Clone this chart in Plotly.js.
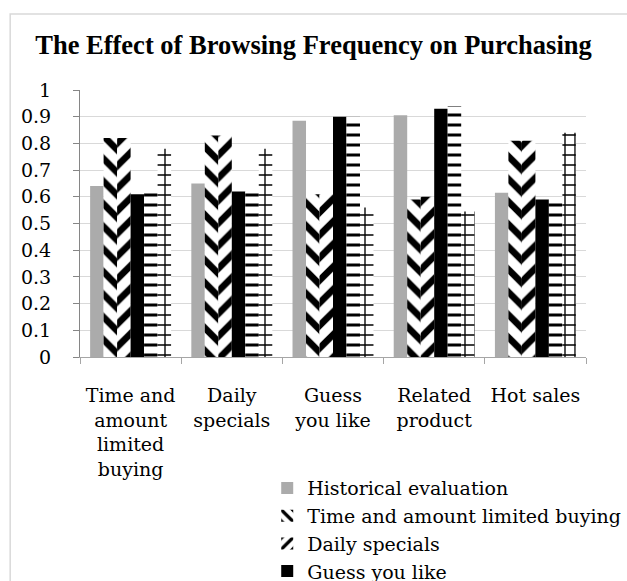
<!DOCTYPE html>
<html>
<head>
<meta charset="utf-8">
<script src="https://cdn.plot.ly/plotly-3.0.1.min.js"></script>
<style>html,body{margin:0;padding:0;background:#fff;}#chart{width:627px;height:581px;}</style>
</head>
<body>
<div id="chart"></div>
<script>
// Categories (x-axis tick labels)
var categories = ['Time and<br>amount<br>limited<br>buying', 'Daily<br>specials', 'Guess<br>you like', 'Related<br>product', 'Hot sales'];

// Series names
var seriesNames = ['Historical evaluation', 'Time and amount limited buying', 'Daily specials', 'Guess you like', 'Related product', 'Hot sales'];

// Series values
var historicalEvaluation = [0.64, 0.65, 0.885, 0.905, 0.615];
var timeAndAmountLimited = [0.82, 0.83, 0.61, 0.59, 0.81];
var dailySpecials       = [0.82, 0.83, 0.61, 0.60, 0.81];
var guessYouLike        = [0.61, 0.62, 0.90, 0.93, 0.59];
var relatedProduct      = [0.615, 0.62, 0.90, 0.94, 0.59];
var hotSales            = [0.78, 0.78, 0.56, 0.545, 0.84];

var yTickVals = [0, 0.1, 0.2, 0.3, 0.4, 0.5, 0.6, 0.7, 0.8, 0.9, 1];
var yTickText = ['0', '0.1', '0.2', '0.3', '0.4', '0.5', '0.6', '0.7', '0.8', '0.9', '1'];

var seriesValues = [historicalEvaluation, timeAndAmountLimited, dailySpecials, guessYouLike, relatedProduct, hotSales];

var patterns = [
  {shape: '.', size: 2, solidity: 0.5, fgcolor: '#404040', bgcolor: '#ffffff'},
  {shape: '\\', size: 16, solidity: 0.42, fgcolor: '#000000', bgcolor: '#ffffff'},
  {shape: '/', size: 16, solidity: 0.42, fgcolor: '#000000', bgcolor: '#ffffff'},
  null,
  {shape: '-', size: 10, solidity: 0.3, fgcolor: '#000000', bgcolor: '#ffffff'},
  {shape: '+', size: 10, solidity: 0.25, fgcolor: '#000000', bgcolor: '#ffffff'}
];

var fontFam = 'DejaVu Serif, Liberation Serif, serif';

var traces = seriesNames.map(function(name, i) {
  var marker = {color: i === 3 ? '#000000' : '#ffffff', line: {width: 0}};
  if (patterns[i]) marker.pattern = patterns[i];
  return {
    type: 'bar',
    name: name,
    x: categories,
    y: seriesValues[i],
    marker: marker,
    legendgroup: 'g' + i,
    hoverinfo: 'name+y'
  };
});

var layout = {
  width: 627,
  height: 581,
  paper_bgcolor: '#ffffff',
  plot_bgcolor: '#ffffff',
  margin: {l: 80, r: 41, t: 90, b: 224, autoexpand: false},
  barmode: 'group',
  bargap: 0.2,
  bargroupgap: 0,
  title: {
    text: '<b>The Effect of Browsing Frequency on Purchasing</b>',
    font: {family: 'Liberation Serif, Times New Roman, serif', size: 26.5, color: '#000000'},
    x: 316, xref: 'container', xanchor: 'center',
    y: 539, yref: 'container', yanchor: 'middle'
  },
  xaxis: {
    type: 'category',
    showline: true, linecolor: '#a6a6a6', linewidth: 1,
    ticks: 'outside', tickson: 'boundaries', ticklen: 6, tickcolor: '#a6a6a6',
    tickfont: {family: fontFam, size: 19, color: '#000000'},
    tickangle: 0,
    ticklabelstandoff: 21,
    showgrid: false, zeroline: false
  },
  yaxis: {
    range: [0, 1],
    tickvals: yTickVals, ticktext: yTickText,
    showline: true, linecolor: '#868686', linewidth: 1,
    ticks: 'outside', ticklen: 6, tickcolor: '#868686',
    tickfont: {family: fontFam, size: 19, color: '#000000'},
    ticklabelstandoff: 18,
    showgrid: true, gridcolor: '#d9d9d9', gridwidth: 1,
    zeroline: false
  },
  showlegend: true,
  legend: {
    x: 0.37, xanchor: 'left', xref: 'paper',
    y: -0.42, yanchor: 'top', yref: 'paper',
    orientation: 'v',
    traceorder: 'normal',
    tracegroupgap: 1,
    itemclick: false,
    font: {family: fontFam, size: 19, color: '#000000'},
    bgcolor: 'rgba(0,0,0,0)', borderwidth: 0
  },
  shapes: [{
    type: 'rect', xref: 'paper', yref: 'paper',
    x0: -0.138, x1: 1.3, y0: -1.5, y1: 1.285,
    line: {color: '#d9d9d9', width: 1.5}, fillcolor: 'rgba(0,0,0,0)', layer: 'below'
  }]
};

Plotly.newPlot('chart', traces, layout, {staticPlot: true, displayModeBar: false});
</script>
</body>
</html>
